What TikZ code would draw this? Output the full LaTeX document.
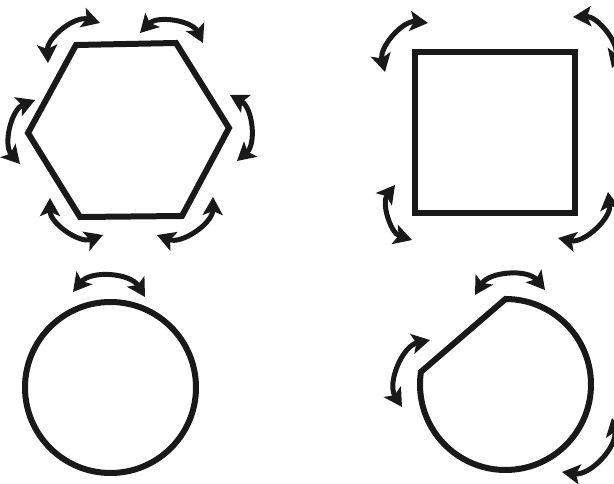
\documentclass[tikz,border=0pt]{standalone}
\usetikzlibrary{arrows.meta}

\begin{document}
\begin{tikzpicture}[
    x=1pt, y=-1pt,
    outline/.style={line width=6pt, line join=miter, color=black!90},
    swing/.style={line width=5pt, color=black!90, {Stealth[length=18pt,width=20pt,inset=4pt]}-{Stealth[length=18pt,width=20pt,inset=4pt]}},
]
\useasboundingbox (0,0) rectangle (614,484);

% shapes
\draw[outline] (76,45) -- (176,43) -- (229,128) -- (182,216) -- (80,217) -- (28,133) -- cycle;
\draw[outline] (415,52) rectangle (575,213);
\draw[outline] (110.5,387.5) circle[radius=85.5];
\draw[outline] (505.5,299) arc[start angle=-90, end angle=188.5, radius=85.5] -- cycle;

% double arrows, clockwise, bulging outwards
\foreach \xa/\ya/\xb/\yb in {48/63/100/23, 140/33/203/43, 230/95/237/161,
  213/197/157/235, 103/235/50/198, 20/164/35/100,
  385/72/428/23, 573/17/612/68, 608/192/558/238, 412/240/395/185,
  73/292/145/297,
  475/295/545/290, 612/418/562/472, 402/407/430/340}{
  \draw[swing] (\xa,\ya) to[bend left=55] (\xb,\yb);
}
\end{tikzpicture}
\end{document}
